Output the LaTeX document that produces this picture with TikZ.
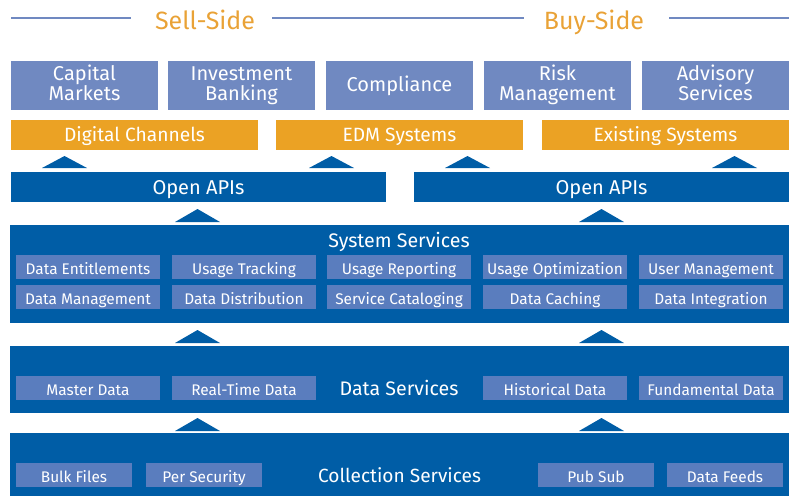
\documentclass[tikz,border=0pt]{standalone}
\usepackage{fontspec}
\setmainfont{Fira Sans}
\definecolor{dblue}{HTML}{005DA6}
\definecolor{lav}{HTML}{7089C1}
\definecolor{inbox}{HTML}{5A7DBE}
\definecolor{orng}{HTML}{EBA224}
\definecolor{otext}{HTML}{E9A236}
\begin{document}
\begin{tikzpicture}[x=1pt,y=-1pt,
  base/.style={anchor=north west, inner sep=0pt, outer sep=0pt, text=white, align=center, text depth=0pt},
  topbox/.style={base, fill=lav, minimum width=147pt, minimum height=49pt, font=\fontsize{20}{21}\selectfont, text height=11pt},
  toplbl/.style={anchor=base, inner sep=0pt, text=white, font=\fontsize{20}{21}\selectfont},
  orbox/.style={base, fill=orng, minimum height=30pt, font=\fontsize{19.2}{20}\selectfont, text height=13.4pt},
  apibar/.style={base, fill=dblue, minimum height=30pt, font=\fontsize{20}{21}\selectfont, text height=14pt},
  panel/.style={base, fill=dblue},
  panelttl/.style={anchor=base, text=white, inner sep=0pt, font=\fontsize{19.6}{21}\selectfont},
  svc/.style={base, fill=inbox, minimum width=144pt, minimum height=24pt, font=\fontsize{15.4}{16}\selectfont, text height=15pt},
  csvc/.style={svc, minimum width=116pt},
  side/.style={anchor=base, text=otext, inner sep=0pt, font=\fontsize{25}{26}\selectfont},
  sideline/.style={draw=lav, line width=2pt},
  tri/.style={fill=dblue}
]
\useasboundingbox (0,0) rectangle (791,496);
% headings
\node[side] (sell) at (205,29.3) {Sell-Side};
\node[side] (buy) at (594,29.3) {Buy-Side};
\coordinate (l1) at (11,18);
\coordinate (l2) at (131,18);
\coordinate (m1) at (272,18);
\coordinate (m2) at (524,18);
\coordinate (r1) at (669,18);
\coordinate (r2) at (789,18);
\draw[sideline] (l1) -- (l2);
\draw[sideline] (m1) -- (m2);
\draw[sideline] (r1) -- (r2);
% top boxes
\node[topbox] (cm) at (11,61) {};
\node[toplbl] (cma) at (84.5,80) {Capital};
\node[toplbl] (cmb) at (84.5,100.7) {Markets};
\node[topbox] (ib) at (168,61) {};
\node[toplbl] (iba) at (241.5,80) {Investment};
\node[toplbl] (ibb) at (241.5,100.7) {Banking};
\node[topbox] (co) at (326,61) {Compliance};
\node[topbox] (rm) at (484,61) {};
\node[toplbl] (rma) at (557.5,80) {Risk};
\node[toplbl] (rmb) at (557.5,100.7) {Management};
\node[topbox] (as) at (642,61) {};
\node[toplbl] (asa) at (715.5,80) {Advisory};
\node[toplbl] (asb) at (715.5,100.7) {Services};
% orange row
\node[orbox, minimum width=247pt] (dc) at (11,120) {Digital Channels};
\node[orbox, minimum width=247pt] (edm) at (276,120) {EDM Systems};
\node[orbox, minimum width=247pt] (es) at (542,120) {Existing Systems};
% triangles to orange
\fill[tri] (42,168) -- (64.5,156) -- (87,168) -- cycle;
\fill[tri] (309,168) -- (331.5,156) -- (354,168) -- cycle;
\fill[tri] (445,168) -- (467.5,156) -- (490,168) -- cycle;
\fill[tri] (712,168) -- (734.5,156) -- (757,168) -- cycle;
% open APIs
\node[apibar, minimum width=375pt] (api1) at (11,172) {Open APIs};
\node[apibar, minimum width=375pt] (api2) at (414,172) {Open APIs};
\fill[tri] (175,222) -- (197.5,209) -- (220,222) -- cycle;
\fill[tri] (579,222) -- (601.5,209) -- (624,222) -- cycle;
% system services
\node[panel, minimum width=779pt, minimum height=98pt] (sys) at (10,225) {};
\node[panelttl] (systtl) at (399,247.3) {System Services};
\node[svc] (s11) at (16,255) {Data Entitlements};
\node[svc] (s12) at (172,255) {Usage Tracking};
\node[svc] (s13) at (327,255) {Usage Reporting};
\node[svc] (s14) at (483,255) {Usage Optimization};
\node[svc] (s15) at (639,255) {User Management};
\node[svc] (s21) at (16,285) {Data Management};
\node[svc] (s22) at (172,285) {Data Distribution};
\node[svc] (s23) at (327,285) {Service Cataloging};
\node[svc] (s24) at (483,285) {Data Caching};
\node[svc] (s25) at (639,285) {Data Integration};
\fill[tri] (175,343) -- (197.5,330) -- (220,343) -- cycle;
\fill[tri] (579,343) -- (601.5,330) -- (624,343) -- cycle;
% data services
\node[panel, minimum width=779pt, minimum height=67pt] (dat) at (10,346) {};
\node[panelttl] (dattl) at (399,395) {Data Services};
\node[svc] (d1) at (16,376) {Master Data};
\node[svc] (d2) at (172,376) {Real-Time Data};
\node[svc] (d4) at (483,376) {Historical Data};
\node[svc] (d5) at (639,376) {Fundamental Data};
\fill[tri] (175,431) -- (197.5,418) -- (220,431) -- cycle;
\fill[tri] (579,431) -- (601.5,418) -- (624,431) -- cycle;
% collection services
\node[panel, minimum width=779pt, minimum height=63pt] (col) at (10,433) {};
\node[panelttl, font=\fontsize{19.1}{20}\selectfont] (coltl) at (399.5,482.3) {Collection Services};
\node[csvc] (c1) at (16,463) {Bulk Files};
\node[csvc] (c2) at (146,463) {Per Security};
\node[csvc] (c4) at (538,463) {Pub Sub};
\node[csvc] (c5) at (667,463) {Data Feeds};
\end{tikzpicture}
\end{document}
